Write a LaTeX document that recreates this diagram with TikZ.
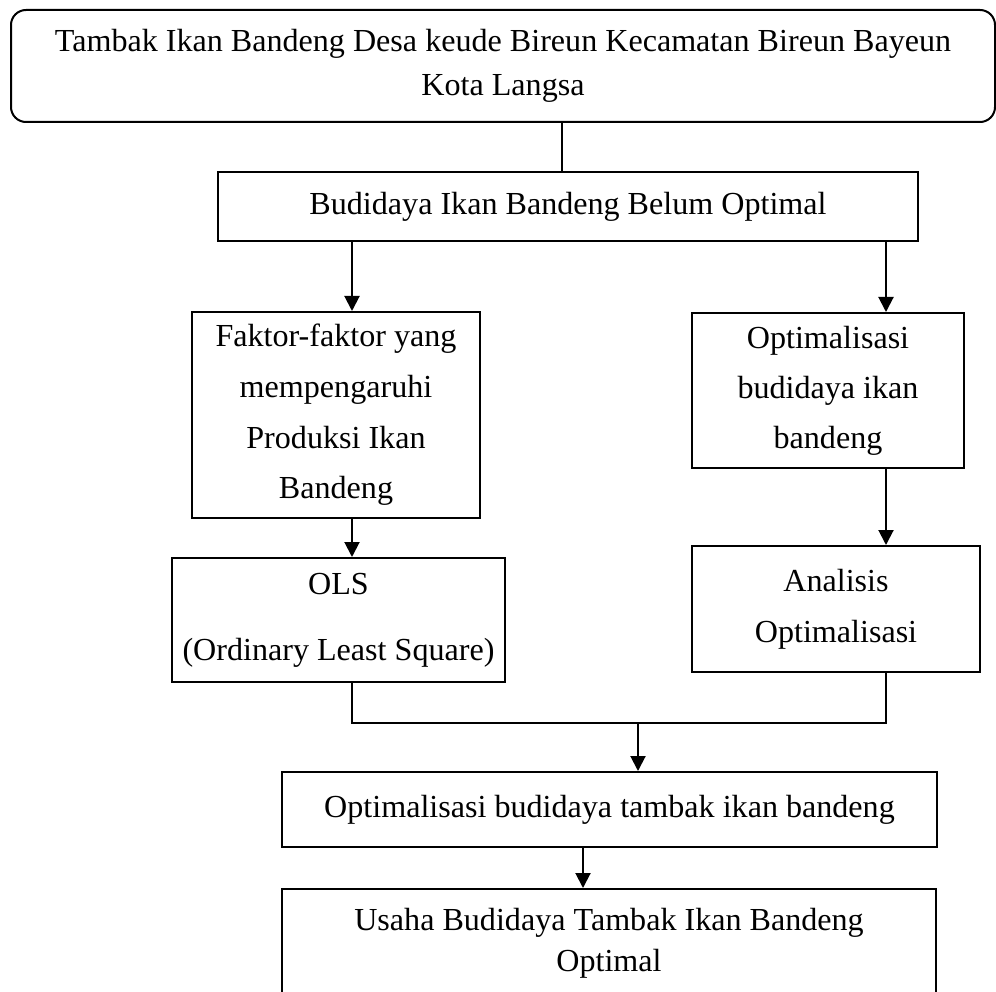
\documentclass[tikz,border=0pt]{standalone}
\usepackage{fontspec}
\setmainfont{Liberation Serif}
\usetikzlibrary{arrows.meta}

\begin{document}
\begin{tikzpicture}[x=1pt,y=-1pt,
    box/.style={draw, line width=2pt, inner sep=0pt, align=center,
      font=\fontsize{32.1}{#1}\selectfont},
    box/.default=50,
    ln/.style={line width=2pt},
    arr/.style={line width=2pt, -{Triangle[length=15pt,width=15pt]}}]
    \useasboundingbox (0,0) rectangle (996,992);
    % columns of the connectors
    \coordinate (cl) at (352,0);
    \coordinate (cr) at (886,0);
    \coordinate (ct) at (562,0);
    \coordinate (cb) at (583,0);
    \coordinate (jn) at (638,723);
    % boxes
    \node [box=44, rounded corners=15pt, minimum width=984pt, minimum height=112pt] (tambak) at (503,66)
      {Tambak Ikan Bandeng Desa keude Bireun Kecamatan Bireun Bayeun\\Kota Langsa};
    \node [box, minimum width=700pt, minimum height=69pt] (belum) at (568,206.5)
      {Budidaya Ikan Bandeng Belum Optimal};
    \node [box=50.7, minimum width=288pt, minimum height=206pt] (faktor) at (336,415)
      {Faktor-faktor yang\\mempengaruhi\\Produksi Ikan\\Bandeng};
    \node [box, minimum width=272pt, minimum height=155pt] (optim) at (828,390.5)
      {Optimalisasi\\budidaya ikan\\bandeng};
    \node [box=66, minimum width=333pt, minimum height=124pt] (ols) at (338.5,620)
      {OLS\\(Ordinary Least Square)};
    \node [box=51, minimum width=288pt, minimum height=126pt] (analisis) at (836,609)
      {Analisis\\Optimalisasi};
    \node [box, minimum width=655pt, minimum height=75pt] (tambakopt) at (609.5,809.5)
      {Optimalisasi budidaya tambak ikan bandeng};
    \node [box=41, minimum width=654pt, minimum height=108pt] (usaha) at (609,943)
      {Usaha Budidaya Tambak Ikan Bandeng\\Optimal};
    % connectors
    \draw [ln] (tambak.south -| ct) -- (belum.north -| ct);
    \draw [arr] (belum.south -| cl) -- (faktor.north -| cl);
    \draw [arr] (belum.south -| cr) -- (optim.north -| cr);
    \draw [arr] (faktor.south -| cl) -- (ols.north -| cl);
    \draw [arr] (optim.south -| cr) -- (analisis.north -| cr);
    \draw [ln] (ols.south -| cl) -- (cl |- jn) -- (cr |- jn) -- (analisis.south -| cr);
    \draw [arr] (jn) -- (tambakopt.north -| jn);
    \draw [arr] (tambakopt.south -| cb) -- (usaha.north -| cb);
\end{tikzpicture}
\end{document}
